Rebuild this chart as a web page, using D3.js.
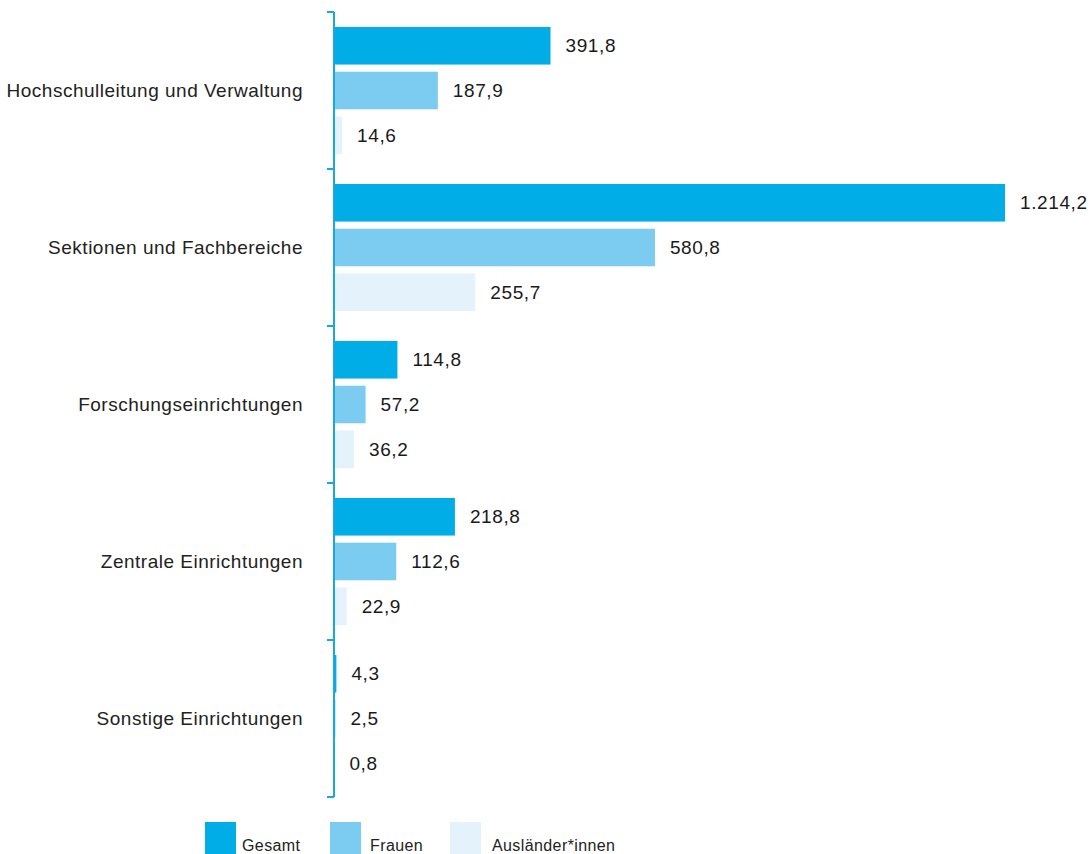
<!DOCTYPE html>
<html><head><meta charset="utf-8">
<script src="https://cdn.jsdelivr.net/npm/d3@7"></script>
<style>
body{margin:0;background:#fff;}
text{font-family:"Liberation Sans",Arial,sans-serif;}
</style></head>
<body>
<svg id="chart" width="1092" height="854"></svg>
<script>
const categories = ["Hochschulleitung und Verwaltung","Sektionen und Fachbereiche","Forschungseinrichtungen","Zentrale Einrichtungen","Sonstige Einrichtungen"];
const seriesNames = ["Gesamt","Frauen","Ausländer*innen"];
const gesamt = [391.8, 1214.2, 114.8, 218.8, 4.3];
const frauen = [187.9, 580.8, 57.2, 112.6, 2.5];
const auslaender = [14.6, 255.7, 36.2, 22.9, 0.8];
const colors = ["#00ade6","#7ccbf1","#e4f2fb"];

const seriesValues = [gesamt, frauen, auslaender];
const svg = d3.select("#chart");
const x0 = 334;
const x = d3.scaleLinear().domain([0,1214.2]).range([x0, 1005]);
const y = d3.scaleBand().domain(categories).range([12,797]).paddingInner(0).paddingOuter(0);
const ys = d3.scaleBand().domain(seriesNames).range([15,142]).paddingInner(0.16);
const fmt = v => {
  const s = v.toFixed(1).split(".");
  const intPart = s[0].replace(/\B(?=(\d{3})+(?!\d))/g, ".");
  return intPart + "," + s[1];
};

const data = [];
categories.forEach((c,i)=>{
  seriesNames.forEach((s,j)=>{
    data.push({cat:c, ser:s, val:seriesValues[j][i], color:colors[j]});
  });
});

svg.selectAll("rect.bar").data(data).enter().append("rect")
  .attr("class","bar")
  .attr("x", x0)
  .attr("y", d => y(d.cat) + ys(d.ser))
  .attr("width", d => x(d.val) - x0)
  .attr("height", ys.bandwidth())
  .attr("fill", d => d.color);

svg.selectAll("text.val").data(data).enter().append("text")
  .attr("class","val")
  .attr("x", d => x(d.val) + 15)
  .attr("y", d => y(d.cat) + ys(d.ser) + ys.bandwidth()/2)
  .attr("dy","0.35em")
  .attr("font-size", 19)
  .attr("letter-spacing", 0.6)
  .attr("fill", "#1a1a1a")
  .text(d => fmt(d.val));

// axis
const axisG = svg.append("g");
axisG.append("line").attr("x1",x0).attr("x2",x0).attr("y1",12).attr("y2",797)
  .attr("stroke","#1aa7e0").attr("stroke-width",2);
const tickPos = categories.map(c=>y(c)).concat([y.range()[1]]);
axisG.selectAll("line.tick").data(tickPos).enter().append("line")
  .attr("x1",x0-7).attr("x2",x0).attr("y1",d=>d).attr("y2",d=>d)
  .attr("stroke","#1aa7e0").attr("stroke-width",2);

svg.selectAll("text.cat").data(categories).enter().append("text")
  .attr("class","cat")
  .attr("x", 303)
  .attr("y", d => y(d) + y.bandwidth()/2)
  .attr("dy","0.35em")
  .attr("text-anchor","end")
  .attr("font-size", 19)
  .attr("letter-spacing", 0.5)
  .attr("fill", "#222")
  .text(d => d);

// legend
const legendX = [205, 330, 450];
const lg = svg.selectAll("g.leg").data(seriesNames).enter().append("g")
  .attr("transform",(d,i)=>`translate(${legendX[i]},822)`);
lg.append("rect").attr("width",31).attr("height",32).attr("fill",(d,i)=>colors[i]);
lg.append("text").attr("x",(d,i)=>[37,40,42][i]).attr("y",29).attr("font-size",16)
  .attr("letter-spacing",0.4).attr("fill","#222").text(d=>d);
</script>
</body></html>
